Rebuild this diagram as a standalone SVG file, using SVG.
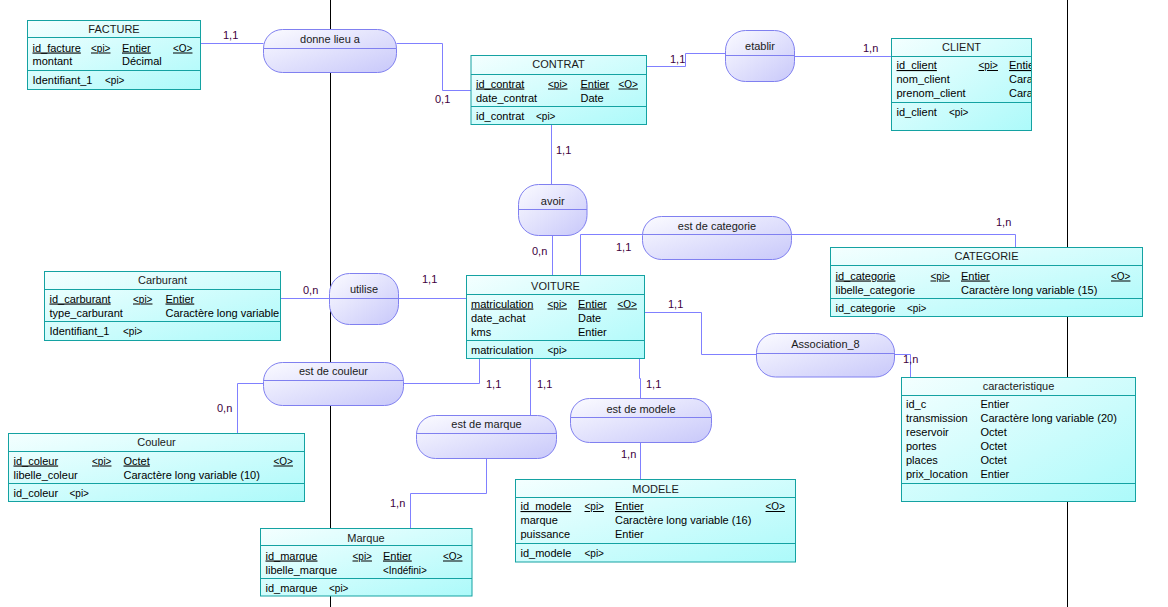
<svg xmlns="http://www.w3.org/2000/svg" width="1168" height="607" viewBox="0 0 1168 607">
<style>
text{font-family:"Liberation Sans",Arial,sans-serif;font-size:11px;fill:#000}
.t{text-anchor:middle;fill:#1a1a1a}
.s{font-size:10px}
.u{text-decoration:underline}
.card{fill:#400040}
.ent{fill:url(#ge);stroke:#14a2a2;stroke-width:1}
.sep{stroke:#14a2a2;stroke-width:1}
.asc{fill:url(#ga);stroke:#8080f0;stroke-width:1}
.asep{stroke:#8080f0;stroke-width:1}
.con{fill:none;stroke:#8080ff;stroke-width:1}
.bl{stroke:#000;stroke-width:1}
</style>
<defs>
<linearGradient id="ge" x1="0" y1="0" x2="1" y2="1"><stop offset="0" stop-color="#f4ffff"/><stop offset="1" stop-color="#acfafa"/></linearGradient>
<linearGradient id="ga" x1="0" y1="0" x2="1" y2="1"><stop offset="0" stop-color="#fbfbff"/><stop offset="1" stop-color="#c8c8fa"/></linearGradient>
<clipPath id="clc"><rect x="891.5" y="38.5" width="139.5" height="92"/></clipPath>
</defs>
<rect width="1168" height="607" fill="#fff"/>
<g id="dividers">
<line class="bl" x1="330.5" y1="0" x2="330.5" y2="607"/>
<line class="bl" x1="1067.5" y1="0" x2="1067.5" y2="607"/>
</g>
<g id="connectors">
<path class="con" d="M200.5 43.5H263.5"/>
<path class="con" d="M396.5 43.5H442.5V90.5H471"/>
<path class="con" d="M646.5 66.5H685.5V53.5H725.5"/>
<path class="con" d="M794.5 56.5H891.5"/>
<path class="con" d="M551.5 124.5V184.5"/>
<path class="con" d="M552.5 235.5V275.5"/>
<path class="con" d="M580.5 275.5V234.5H642.5"/>
<path class="con" d="M791.5 234.5H1015.5V247.5"/>
<path class="con" d="M280.5 298.5H329.5"/>
<path class="con" d="M398.5 298.5H466.5"/>
<path class="con" d="M644.5 312.5H701.5V354.5H756.5"/>
<path class="con" d="M894.5 354.5H910.5V377.5"/>
<path class="con" d="M237.5 433.5V383.5H263.5"/>
<path class="con" d="M403.5 383.5H479.5V358.5"/>
<path class="con" d="M530.5 358.5V415.5"/>
<path class="con" d="M486.5 458.5V493.5H410.5V528.5"/>
<path class="con" d="M639.5 358.5V378.5H640.5V398.5"/>
<path class="con" d="M640.5 442.5V479.5"/>
<g id="cardinalities">
<text class="card" x="223" y="39">1,1</text>
<text class="card" x="435" y="103">0,1</text>
<text class="card" x="670" y="63">1,1</text>
<text class="card" x="863" y="52">1,n</text>
<text class="card" x="556" y="154">1,1</text>
<text class="card" x="532" y="255">0,n</text>
<text class="card" x="616" y="251">1,1</text>
<text class="card" x="996" y="226">1,n</text>
<text class="card" x="303" y="294">0,n</text>
<text class="card" x="422" y="283">1,1</text>
<text class="card" x="668" y="308">1,1</text>
<text class="card" x="903" y="363">1,n</text>
<text class="card" x="217" y="412">0,n</text>
<text class="card" x="486" y="388">1,1</text>
<text class="card" x="537" y="388">1,1</text>
<text class="card" x="646" y="388">1,1</text>
<text class="card" x="621" y="458">1,n</text>
<text class="card" x="390" y="507">1,n</text>
</g>
</g>
<g id="donne_lieu_a">
<rect class="asc" x="263.5" y="29.5" width="133" height="43" rx="19"/>
<line class="asep" x1="263.5" y1="48.5" x2="396.5" y2="48.5"/>
<text class="t" x="330" y="42.5">donne lieu a</text>
</g>
<g id="etablir">
<rect class="asc" x="725.5" y="30.5" width="69" height="51" rx="20"/>
<line class="asep" x1="725.5" y1="55.5" x2="794.5" y2="55.5"/>
<text class="t" x="760" y="50">etablir</text>
</g>
<g id="avoir">
<rect class="asc" x="518.5" y="184.5" width="68.5" height="51" rx="20"/>
<line class="asep" x1="518.5" y1="209.5" x2="587" y2="209.5"/>
<text class="t" x="552.75" y="205">avoir</text>
</g>
<g id="est_de_categorie">
<rect class="asc" x="642.5" y="216.5" width="149" height="43" rx="19"/>
<line class="asep" x1="642.5" y1="234.5" x2="791.5" y2="234.5"/>
<text class="t" x="717" y="229.5">est de categorie</text>
</g>
<g id="utilise">
<rect class="asc" x="329.5" y="273.5" width="69" height="51" rx="20"/>
<line class="asep" x1="329.5" y1="298.5" x2="398.5" y2="298.5"/>
<text class="t" x="364" y="293">utilise</text>
</g>
<g id="association_8">
<rect class="asc" x="756.5" y="333.5" width="138" height="43.5" rx="19"/>
<line class="asep" x1="756.5" y1="353.5" x2="894.5" y2="353.5"/>
<text class="t" x="825.5" y="347.5">Association_8</text>
</g>
<g id="est_de_couleur">
<rect class="asc" x="263.5" y="362.5" width="140" height="43" rx="19"/>
<line class="asep" x1="263.5" y1="380.5" x2="403.5" y2="380.5"/>
<text class="t" x="333.5" y="375">est de couleur</text>
</g>
<g id="est_de_marque">
<rect class="asc" x="416.5" y="415.5" width="140" height="43" rx="19"/>
<line class="asep" x1="416.5" y1="433.5" x2="556.5" y2="433.5"/>
<text class="t" x="486.5" y="428">est de marque</text>
</g>
<g id="est_de_modele">
<rect class="asc" x="570.5" y="398.5" width="141" height="44" rx="19"/>
<line class="asep" x1="570.5" y1="417.5" x2="711.5" y2="417.5"/>
<text class="t" x="641" y="412.5">est de modele</text>
</g>
<g id="FACTURE">
<rect class="ent" x="27.5" y="20.5" width="173" height="69"/>
<line class="sep" x1="27.5" y1="37.5" x2="200.5" y2="37.5"/>
<line class="sep" x1="27.5" y1="70.5" x2="200.5" y2="70.5"/>
<text class="t" x="114" y="33">FACTURE</text>
<text class="u" x="32.5" y="51.5">id_facture</text><text class="u s" x="91" y="51.5">&lt;pi&gt;</text><text class="u" x="122" y="51.5">Entier</text><text class="u s" x="173" y="51.5">&lt;O&gt;</text>
<text x="32.5" y="65">montant</text><text x="122" y="65">Décimal</text>
<text x="32.5" y="84">Identifiant_1</text><text class="s" x="105" y="84">&lt;pi&gt;</text>
</g>
<g id="CONTRAT">
<rect class="ent" x="471" y="55.5" width="175.5" height="69"/>
<line class="sep" x1="471" y1="74.5" x2="646.5" y2="74.5"/>
<line class="sep" x1="471" y1="106.5" x2="646.5" y2="106.5"/>
<text class="t" x="558.5" y="67.5">CONTRAT</text>
<text class="u" x="476" y="87.5">id_contrat</text><text class="u s" x="548" y="87.5">&lt;pi&gt;</text><text class="u" x="580.5" y="87.5">Entier</text><text class="u s" x="618.5" y="87.5">&lt;O&gt;</text>
<text x="476" y="101.5">date_contrat</text><text x="580.5" y="101.5">Date</text>
<text x="476" y="119.5">id_contrat</text><text class="s" x="536" y="119.5">&lt;pi&gt;</text>
</g>
<g id="CLIENT">
<rect class="ent" x="891.5" y="38.5" width="140" height="92"/>
<line class="sep" x1="891.5" y1="56.5" x2="1031.5" y2="56.5"/>
<line class="sep" x1="891.5" y1="102.5" x2="1031.5" y2="102.5"/>
<text class="t" x="961.5" y="51">CLIENT</text>
<g clip-path="url(#clc)">
<text class="u" x="896.5" y="69">id_client</text><text class="u s" x="978.5" y="69">&lt;pi&gt;</text><text class="u" x="1009" y="69">Entie</text>
<text x="896.5" y="83">nom_client</text><text x="1009" y="83">Cara</text>
<text x="896.5" y="97">prenom_client</text><text x="1009" y="97">Cara</text>
<text x="896.5" y="116">id_client</text><text class="s" x="949" y="116">&lt;pi&gt;</text>
</g>
</g>
<g id="CATEGORIE">
<rect class="ent" x="830.5" y="247.5" width="312" height="69"/>
<line class="sep" x1="830.5" y1="265.5" x2="1142.5" y2="265.5"/>
<line class="sep" x1="830.5" y1="298.5" x2="1142.5" y2="298.5"/>
<text class="t" x="986.5" y="260">CATEGORIE</text>
<text class="u" x="835.5" y="279.5">id_categorie</text><text class="u s" x="930.5" y="279.5">&lt;pi&gt;</text><text class="u" x="961" y="279.5">Entier</text><text class="u s" x="1111" y="279.5">&lt;O&gt;</text>
<text x="835.5" y="293.5">libelle_categorie</text><text x="961" y="293.5">Caractère long variable (15)</text>
<text x="835.5" y="311.5">id_categorie</text><text class="s" x="907" y="311.5">&lt;pi&gt;</text>
</g>
<g id="Carburant">
<rect class="ent" x="44.5" y="271.5" width="236" height="69"/>
<line class="sep" x1="44.5" y1="289.5" x2="280.5" y2="289.5"/>
<line class="sep" x1="44.5" y1="321.5" x2="280.5" y2="321.5"/>
<text class="t" x="162.5" y="284">Carburant</text>
<text class="u" x="49.5" y="302.5">id_carburant</text><text class="u s" x="133" y="302.5">&lt;pi&gt;</text><text class="u" x="165.5" y="302.5">Entier</text>
<text x="49.5" y="316.5">type_carburant</text><text x="165.5" y="316.5">Caractère long variable</text>
<text x="49.5" y="334.5">Identifiant_1</text><text class="s" x="123" y="334.5">&lt;pi&gt;</text>
</g>
<g id="VOITURE">
<rect class="ent" x="466.5" y="275.5" width="178" height="83"/>
<line class="sep" x1="466.5" y1="294.5" x2="644.5" y2="294.5"/>
<line class="sep" x1="466.5" y1="340.5" x2="644.5" y2="340.5"/>
<text class="t" x="555.5" y="289.5">VOITURE</text>
<text class="u" x="471" y="307.5">matriculation</text><text class="u s" x="547.5" y="307.5">&lt;pi&gt;</text><text class="u" x="578" y="307.5">Entier</text><text class="u s" x="617.5" y="307.5">&lt;O&gt;</text>
<text x="471" y="321.5">date_achat</text><text x="578" y="321.5">Date</text>
<text x="471" y="335.5">kms</text><text x="578" y="335.5">Entier</text>
<text x="471" y="353.5">matriculation</text><text class="s" x="547.5" y="353.5">&lt;pi&gt;</text>
</g>
<g id="caracteristique">
<rect class="ent" x="901.5" y="377.5" width="234" height="124"/>
<line class="sep" x1="901.5" y1="395.5" x2="1135.5" y2="395.5"/>
<line class="sep" x1="901.5" y1="483.5" x2="1135.5" y2="483.5"/>
<text class="t" x="1018.5" y="390">caracteristique</text>
<text x="906" y="408">id_c</text><text x="980.5" y="408">Entier</text>
<text x="906" y="422">transmission</text><text x="980.5" y="422">Caractère long variable (20)</text>
<text x="906" y="436">reservoir</text><text x="980.5" y="436">Octet</text>
<text x="906" y="450">portes</text><text x="980.5" y="450">Octet</text>
<text x="906" y="464">places</text><text x="980.5" y="464">Octet</text>
<text x="906" y="478">prix_location</text><text x="980.5" y="478">Entier</text>
</g>
<g id="Couleur">
<rect class="ent" x="8.5" y="433.5" width="296" height="68"/>
<line class="sep" x1="8.5" y1="451.5" x2="304.5" y2="451.5"/>
<line class="sep" x1="8.5" y1="483.5" x2="304.5" y2="483.5"/>
<text class="t" x="156.5" y="446">Couleur</text>
<text class="u" x="13.5" y="464.5">id_coleur</text><text class="u s" x="92" y="464.5">&lt;pi&gt;</text><text class="u" x="123.5" y="464.5">Octet</text><text class="u s" x="273.5" y="464.5">&lt;O&gt;</text>
<text x="13.5" y="478.5">libelle_coleur</text><text x="123.5" y="478.5">Caractère long variable (10)</text>
<text x="13.5" y="497">id_coleur</text><text class="s" x="69.5" y="497">&lt;pi&gt;</text>
</g>
<g id="Marque">
<rect class="ent" x="260.5" y="528.5" width="211.5" height="67.5"/>
<line class="sep" x1="260.5" y1="545.5" x2="472" y2="545.5"/>
<line class="sep" x1="260.5" y1="578.5" x2="472" y2="578.5"/>
<text class="t" x="366" y="541.5">Marque</text>
<text class="u" x="265.5" y="559.5">id_marque</text><text class="u s" x="352.5" y="559.5">&lt;pi&gt;</text><text class="u" x="383" y="559.5">Entier</text><text class="u s" x="443" y="559.5">&lt;O&gt;</text>
<text x="265.5" y="573.5">libelle_marque</text><text class="s" x="383" y="573.5">&lt;Indéfini&gt;</text>
<text x="265.5" y="591.5">id_marque</text><text class="s" x="329" y="591.5">&lt;pi&gt;</text>
</g>
<g id="MODELE">
<rect class="ent" x="515.5" y="479.5" width="280" height="82.5"/>
<line class="sep" x1="515.5" y1="497.5" x2="795.5" y2="497.5"/>
<line class="sep" x1="515.5" y1="543.5" x2="795.5" y2="543.5"/>
<text class="t" x="655.5" y="492.5">MODELE</text>
<text class="u" x="520.5" y="510">id_modele</text><text class="u s" x="584.5" y="510">&lt;pi&gt;</text><text class="u" x="615" y="510">Entier</text><text class="u s" x="765.5" y="510">&lt;O&gt;</text>
<text x="520.5" y="524">marque</text><text x="615" y="524">Caractère long variable (16)</text>
<text x="520.5" y="538">puissance</text><text x="615" y="538">Entier</text>
<text x="520.5" y="557">id_modele</text><text class="s" x="584.5" y="557">&lt;pi&gt;</text>
</g>
</svg>
